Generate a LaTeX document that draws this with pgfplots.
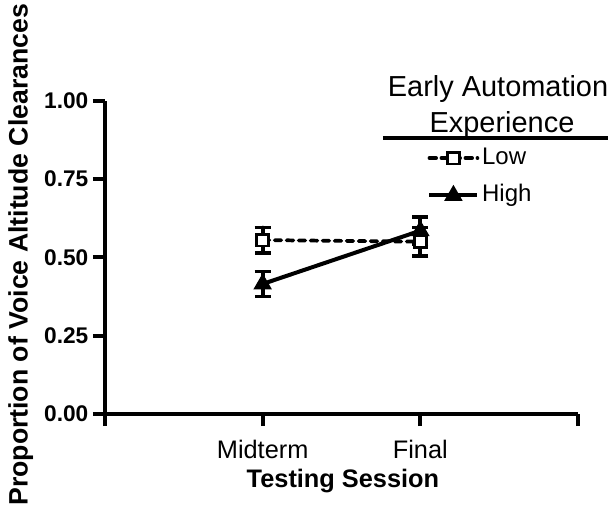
\documentclass[border=0pt]{standalone}
\usepackage{fontspec}
\setmainfont{Liberation Sans}
\usepackage{pgfplots}
\pgfplotsset{compat=1.18}

\begin{document}
\begin{tikzpicture}
\useasboundingbox (-78.75pt,-72.75pt) rectangle (377.25pt,310.5pt);
\begin{axis}[
    name=ax,
    scale only axis,
    width=354.75pt, height=235pt,
    xmin=0, xmax=3, ymin=0, ymax=1,
    axis x line*=bottom, axis y line*=left,
    axis line style={line width=2.8pt, -},
    xtick={0,1,2,3}, xticklabels={,Midterm,Final,},
    ytick={0,0.25,0.5,0.75,1},
    tick align=outside, major tick length=9pt,
    tick style={line width=2.8pt, black},
    xticklabel style={font=\fontsize{19}{23}\selectfont, yshift=-7pt},
    yticklabel style={font=\bfseries\fontsize{17}{20}\selectfont,
        /pgf/number format/fixed, /pgf/number format/fixed zerofill,
        /pgf/number format/precision=2, /pgf/number format/assume math mode=true},
    xlabel={Testing Session},
    ylabel={Proportion of Voice Altitude Clearances},
    xlabel style={at={(axis description cs:0.503,-0.236)}, anchor=base,
        font=\bfseries\fontsize{19}{23}\selectfont},
    ylabel style={at={(axis description cs:-0.178,0.508)}, anchor=center,
        font=\bfseries\fontsize{20}{24}\selectfont},
    clip=false,
    legend style={at={(axis cs:2.018,0.757)}, anchor=west, draw=none, fill=none,
        font=\fontsize{18}{21}\selectfont, row sep=7pt,
        nodes={inner sep=2pt, text height=13pt, text depth=4pt}},
    legend cell align=left,
    legend image code/.code={
        \draw[mark repeat=2, mark phase=2, #1] plot coordinates {(0pt,0pt) (18pt,0pt) (36pt,0pt)};
    },
]
\addplot[black, line width=2.8pt, dash pattern=on 5pt off 4pt, line cap=round,
    mark=square*, mark size=4.4pt,
    mark options={solid, fill=white, line width=2pt},
    error bars/.cd, y dir=both, y explicit,
    error bar style={line width=2.8pt, solid},
    error mark options={rotate=90, mark size=6pt, line width=2.8pt}]
    coordinates {
    (1,0.555) +- (0,0.040)
    (2,0.550) +- (0,0.045)
};
\addlegendentry{Low}
\addplot[black, line width=3pt,
    mark=triangle*, mark size=5pt, mark options={solid},
    error bars/.cd, y dir=both, y explicit,
    error bar style={line width=2.8pt, solid},
    error mark options={rotate=90, mark size=6pt, line width=2.8pt}]
    coordinates {
    (1,0.415) +- (0,0.040)
    (2,0.585) +- (0,0.043)
};
\addlegendentry{High}
\node[anchor=base, font=\fontsize{21.7}{26}\selectfont] at (axis cs:2.493,1.012) {Early Automation};
\node[anchor=base, font=\fontsize{21.7}{26}\selectfont] at (axis cs:2.518,0.900) {Experience};
\draw[line width=2.6pt] (axis cs:1.763,0.881) -- (axis cs:3.2,0.881);
\end{axis}
\end{tikzpicture}
\end{document}
